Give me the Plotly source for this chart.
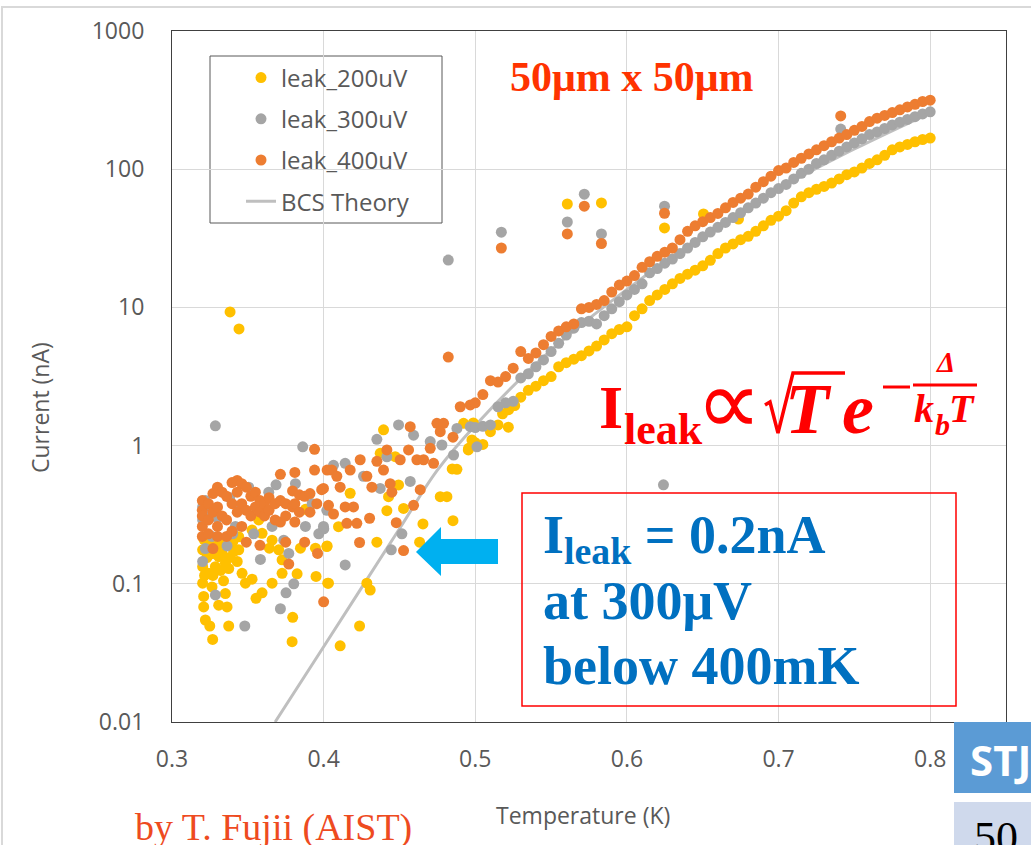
import plotly.graph_objects as go

# ---------------- data ----------------
# leak_200uV (yellow)
t200_low = [0.3202, 0.3202, 0.3202, 0.3209, 0.3209, 0.322, 0.3249, 0.3268, 0.3242, 0.3264,
            0.3286, 0.3308, 0.333, 0.3352, 0.3374, 0.3352, 0.3363, 0.3308, 0.3374, 0.3407,
            0.344, 0.3462, 0.3528, 0.3484, 0.3594, 0.3554, 0.366, 0.3726, 0.3825, 0.3796,
            0.3792, 0.395, 0.4027, 0.3642, 0.3726, 0.3847, 0.3946, 0.4023, 0.3594, 0.366,
            0.3528, 0.344, 0.3572, 0.388, 0.3704, 0.321, 0.325, 0.330, 0.335, 0.340,
            0.323, 0.327, 0.332, 0.338, 0.343, 0.3215, 0.326, 0.334]
i200_low = [0.176, 0.133, 0.101, 0.081, 0.068, 0.0547, 0.0495, 0.0396, 0.119, 0.095,
            0.133, 0.157, 0.166, 0.141, 0.129, 0.085, 0.068, 0.070, 0.0495, 0.171,
            0.176, 0.119, 0.108, 0.101, 0.086, 0.0785, 0.101, 0.119, 0.118, 0.0572,
            0.0381, 0.113, 0.101, 0.181, 0.149, 0.181, 0.181, 0.188, 0.232, 0.207,
            0.245, 0.219, 0.29, 0.346, 0.176, 0.21, 0.20, 0.19, 0.21, 0.20,
            0.155, 0.115, 0.125, 0.155, 0.145, 0.115, 0.165, 0.105]
t200_mid = [0.4395, 0.4923, 0.4978, 0.4956, 0.4879, 0.4769, 0.4813, 0.4853, 0.4655, 0.4633,
            0.4351, 0.4417, 0.4527, 0.4494, 0.4428, 0.4175, 0.4098, 0.4021, 0.4032, 0.4285,
            0.4307, 0.4237, 0.4109, 0.4472, 0.4373, 0.4848, 0.4954, 0.4987]
i200_mid = [1.30, 1.45, 1.10, 0.955, 0.673, 0.427, 0.427, 0.286, 0.271, 0.20,
            0.20, 0.338, 0.351, 0.519, 0.427, 0.452, 0.259, 0.186, 0.101, 0.101,
            0.0902, 0.0495, 0.0356, 0.832, 0.879, 0.678, 0.93, 1.46]
t200_hi = [0.500, 0.505, 0.510, 0.515, 0.518, 0.522, 0.526,
           0.530, 0.535, 0.540, 0.545, 0.550,
           0.555, 0.560, 0.565, 0.570, 0.575, 0.580, 0.585, 0.590, 0.595, 0.600,
           0.605, 0.610, 0.615, 0.620, 0.625, 0.630, 0.635, 0.640, 0.645, 0.650,
           0.655, 0.660, 0.665, 0.670, 0.675, 0.680, 0.685, 0.690, 0.695, 0.700,
           0.705, 0.710, 0.715, 0.720, 0.725, 0.730, 0.735, 0.740, 0.745, 0.750,
           0.755, 0.760, 0.765, 0.770, 0.775, 0.780, 0.785, 0.790, 0.795, 0.800]
i200_hi = [1.05, 1.02, 1.26, 1.41, 1.70, 1.82, 1.95,
           2.24, 2.51, 2.69, 2.95, 3.16,
           3.72, 3.98, 4.22, 4.47, 4.84, 5.25, 5.82, 6.46, 6.92, 7.24,
           8.71, 9.77, 11.2, 12.3, 13.5, 14.8, 16.2, 17.4, 18.6, 20.0,
           21.9, 24.5, 26.9, 28.8, 30.9, 32.7, 35.5, 38.9, 42.7, 45.7,
           50.1, 56.9, 63.1, 67.6, 71.6, 75.0, 79.4, 85.1, 91.2, 95.5,
           102, 110, 117, 126, 138, 145, 151, 158, 164, 168]
t200_out = [0.3383, 0.3442, 0.5607, 0.5832, 0.6248, 0.6505, 0.6736, 0.5218]
i200_out = [9.27, 6.98, 56, 57, 37.6, 47.4, 43.6, 1.36]

# leak_300uV (grey)
t300_low = [0.3286, 0.3862, 0.3686, 0.3814, 0.3638, 0.3506, 0.3202, 0.3202, 0.3202, 0.322,
            0.3363, 0.3286, 0.3583, 0.3752, 0.3715, 0.348, 0.3803, 0.377, 0.3737, 0.3968,
            0.4001, 0.3924, 0.3539, 0.3418, 0.366, 0.3264, 0.388, 0.322, 0.325, 0.330,
            0.338, 0.345, 0.340]
i300_low = [1.39, 0.98, 0.52, 0.53, 0.46, 0.50, 0.36, 0.29, 0.145, 0.18,
            0.188, 0.083, 0.15, 0.086, 0.066, 0.0495, 0.10, 0.166, 0.207, 0.23,
            0.25, 0.38, 0.23, 0.26, 0.26, 0.22, 0.26, 0.40, 0.33, 0.30,
            0.42, 0.35, 0.23]
t300_mid = [0.4494, 0.4593, 0.4351, 0.4703, 0.478, 0.4879, 0.4967, 0.4857, 0.4571, 0.4373,
            0.4142, 0.4065, 0.4263, 0.4021, 0.3999, 0.4516, 0.4446, 0.4142, 0.4417, 0.5011]
i300_mid = [1.41, 1.19, 1.11, 1.07, 1.01, 1.33, 1.37, 0.855, 0.55, 0.49,
            0.745, 0.72, 0.60, 0.34, 0.26, 0.23, 0.176, 0.137, 0.83, 0.98]
t300_hi = [0.500, 0.505, 0.510, 0.515, 0.520, 0.525, 0.530, 0.535, 0.540, 0.545, 0.550,
           0.555, 0.560, 0.565, 0.570, 0.575, 0.580, 0.585, 0.590, 0.595, 0.600,
           0.605, 0.610, 0.615, 0.620, 0.625, 0.630, 0.635, 0.640, 0.645, 0.650,
           0.655, 0.660, 0.665, 0.670, 0.675, 0.680, 0.685, 0.690, 0.695, 0.700,
           0.705, 0.710, 0.715, 0.720, 0.725, 0.730, 0.735, 0.740, 0.745, 0.750,
           0.755, 0.760, 0.765, 0.770, 0.775, 0.780, 0.785, 0.790, 0.795, 0.800]
i300_hi = [1.35, 1.38, 1.41, 1.91, 2.04, 2.09, 3.09, 3.31, 3.72, 4.17, 4.79,
           5.50, 6.31, 7.08, 7.76, 7.94, 7.59, 8.71, 9.77, 11.0, 12.3,
           13.5, 14.8, 17.8, 19.1, 20.9, 22.4, 24.5, 26.9, 29.5, 32.4,
           35.1, 38.0, 41.2, 44.7, 48.4, 52.5, 56.9, 61.7, 67.6, 72.4,
           77.6, 85.1, 93.3, 100, 110, 117, 126, 135, 145, 155,
           166, 178, 186, 197, 209, 219, 229, 240, 251, 260]
t300_out = [0.4822, 0.5172, 0.5607, 0.5719, 0.5832, 0.6248, 0.741, 0.6241]
i300_out = [22, 35, 41.5, 66, 34, 54, 195, 0.52]

# leak_400uV (orange)
t400_low = [0.320, 0.320, 0.320, 0.320, 0.320, 0.324, 0.324, 0.324, 0.327, 0.327, 0.327,
            0.330, 0.330, 0.330, 0.330, 0.333, 0.333, 0.336, 0.336, 0.336,
            0.3396, 0.3396, 0.3396, 0.343, 0.343, 0.343, 0.346, 0.346, 0.346,
            0.349, 0.349, 0.349, 0.352, 0.352, 0.355, 0.355, 0.358, 0.358, 0.358,
            0.361, 0.361, 0.364, 0.364, 0.368, 0.368, 0.3715, 0.3715, 0.3715,
            0.375, 0.375, 0.375, 0.3795, 0.3795, 0.381, 0.381, 0.381, 0.384, 0.384,
            0.3875, 0.3875, 0.391, 0.391, 0.394, 0.394, 0.396, 0.3955, 0.400, 0.3987,
            0.4023, 0.377]
i400_low = [0.40, 0.34, 0.31, 0.26, 0.22, 0.38, 0.29, 0.23, 0.45, 0.33, 0.18,
            0.50, 0.36, 0.26, 0.22, 0.46, 0.31, 0.43, 0.29, 0.22,
            0.54, 0.38, 0.24, 0.56, 0.46, 0.33, 0.53, 0.38, 0.26,
            0.50, 0.34, 0.20, 0.43, 0.31, 0.46, 0.36, 0.40, 0.33, 0.19,
            0.38, 0.31, 0.42, 0.34, 0.38, 0.29, 0.62, 0.40, 0.28,
            0.38, 0.31, 0.20, 0.47, 0.36, 0.64, 0.38, 0.28, 0.33, 0.44,
            0.43, 0.20, 0.45, 0.33, 0.94, 0.665, 0.166, 0.38, 0.074, 0.48,
            0.665, 0.139]
t400_mid = [0.3999, 0.4054, 0.4087, 0.4109, 0.4175, 0.4241, 0.4285, 0.4351, 0.4395, 0.4417,
            0.4505, 0.456, 0.4571, 0.4615, 0.4659, 0.4703, 0.4725, 0.4747, 0.4791, 0.4769,
            0.4853, 0.4901, 0.4967, 0.4318, 0.4439, 0.445, 0.4637, 0.4593, 0.4479, 0.4527,
            0.4237, 0.4303, 0.4142, 0.4197, 0.4032, 0.4065, 0.4153, 0.4219]
i400_mid = [0.49, 0.665, 0.60, 0.50, 0.665, 0.79, 0.60, 0.77, 0.665, 0.93,
            0.79, 0.93, 1.37, 0.79, 0.79, 0.955, 0.745, 1.45, 1.45, 1.26,
            1.15, 1.91, 1.97, 0.50, 0.53, 0.46, 0.48, 0.37, 0.277, 0.174,
            0.199, 0.298, 0.36, 0.36, 0.37, 0.32, 0.274, 0.274]
t400_hi = [0.500, 0.505, 0.510, 0.515, 0.520, 0.525, 0.530, 0.535, 0.540, 0.545, 0.550,
           0.555, 0.560, 0.565, 0.570, 0.575, 0.580, 0.585, 0.590, 0.595, 0.600,
           0.605, 0.610, 0.615, 0.620, 0.625, 0.630, 0.635, 0.640, 0.645, 0.650,
           0.655, 0.660, 0.665, 0.670, 0.675, 0.680, 0.685, 0.690, 0.695, 0.700,
           0.705, 0.710, 0.715, 0.720, 0.725, 0.730, 0.735, 0.740, 0.745, 0.750,
           0.755, 0.760, 0.765, 0.770, 0.775, 0.780, 0.785, 0.790, 0.795, 0.800]
i400_hi = [2.04, 2.34, 2.95, 2.88, 3.16, 3.63, 4.79, 4.27, 4.68, 5.37, 6.17,
           6.76, 7.24, 7.59, 9.77, 10.0, 10.5, 11.2, 12.9, 14.5, 15.5,
           17.0, 19.5, 21.4, 23.4, 25.1, 26.9, 30.9, 35.5, 38.9, 41.7,
           44.7, 47.9, 52.5, 57.5, 61.7, 66.1, 74.1, 81.3, 89.1, 97.7,
           102, 112, 120, 129, 138, 148, 158, 168, 178, 191,
           204, 221, 234, 245, 257, 269, 282, 295, 309, 316]
t400_out = [0.4822, 0.5172, 0.5607, 0.5719, 0.5832, 0.6248, 0.741]
i400_out = [4.37, 26.9, 34, 54, 29, 48, 243]

# BCS theory curve
bcs_t = [0.368, 0.40, 0.45, 0.475, 0.50, 0.55, 0.60, 0.65, 0.70, 0.75, 0.80]
bcs_i = [0.01, 0.035, 0.25, 0.665, 1.4, 4.9, 13.5, 33, 72, 140, 255]

x_ticks = [0.3, 0.4, 0.5, 0.6, 0.7, 0.8]
x_labels = ["0.3", "0.4", "0.5", "0.6", "0.7", "0.8"]
y_ticks = [0.01, 0.1, 1, 10, 100, 1000]
y_labels = ["0.01", "0.1", "1", "10", "100", "1000"]

# ---------------- layout helpers ----------------
W, H = 1031, 845
ML, MR, MT, MB = 172, 25, 31, 123
PW, PH = W - ML - MR, H - MT - MB


def fx(px):
    return (px - ML) / PW


def fy(py):
    return (H - MB - py) / PH


GREY_TXT = "#595959"
SERIF = "Liberation Serif, Times New Roman, serif"
SANS = "Open Sans, Segoe UI, sans-serif"

fig = go.Figure()
fig.add_trace(go.Scatter(x=bcs_t, y=bcs_i, mode="lines", name="BCS Theory",
                         line=dict(color="#BFBFBF", width=3, shape="spline"),
                         legendrank=4, legendgroup="bcs"))
series = [
    ("leak_200uV", "#FFC000", t200_low + t200_mid + t200_hi + t200_out,
     i200_low + i200_mid + i200_hi + i200_out, 1),
    ("leak_300uV", "#A5A5A5", t300_low + t300_mid + t300_hi + t300_out,
     i300_low + i300_mid + i300_hi + i300_out, 2),
    ("leak_400uV", "#ED7D31", t400_low + t400_mid + t400_hi + t400_out,
     i400_low + i400_mid + i400_hi + i400_out, 3),
]
for name, col, t, i, rk in series:
    fig.add_trace(go.Scatter(x=t, y=i, mode="markers", name=name,
                             marker=dict(color=col, size=11, line=dict(width=0)),
                             legendrank=rk, legendgroup=name))

fig.update_layout(
    width=W, height=H,
    margin=dict(l=ML, r=MR, t=MT, b=MB),
    paper_bgcolor="white", plot_bgcolor="white",
    showlegend=True,
    legend=dict(x=fx(241), y=fy(55.5), xanchor="left", yanchor="top",
                bgcolor="rgba(0,0,0,0)", borderwidth=0,
                font=dict(family=SANS, size=24, color=GREY_TXT),
                traceorder="grouped", tracegroupgap=7, itemwidth=30),
    xaxis=dict(range=[0.3, 0.85], tickvals=x_ticks, ticktext=x_labels,
               showgrid=True, gridcolor="#D9D9D9", gridwidth=1, zeroline=False,
               showline=True, linecolor="#404040", linewidth=1.2, mirror=True,
               ticks="", ticklabelstandoff=16,
               tickfont=dict(family=SANS, size=23, color=GREY_TXT)),
    yaxis=dict(type="log", range=[-2, 3], tickvals=y_ticks, ticktext=y_labels,
               showgrid=True, gridcolor="#D9D9D9", gridwidth=1, zeroline=False,
               showline=True, linecolor="#404040", linewidth=1.2, mirror=True,
               ticks="", ticklabelstandoff=22,
               tickfont=dict(family=SANS, size=23, color=GREY_TXT)),
)

shapes = []
# outer chart border
shapes.append(dict(type="rect", xref="paper", yref="paper", x0=fx(2), x1=fx(1040),
                   y0=fy(850), y1=fy(7), line=dict(color="#D9D9D9", width=2), layer="below"))
# legend box
shapes.append(dict(type="rect", xref="paper", yref="paper", x0=fx(210), x1=fx(442),
                   y0=fy(223), y1=fy(56), fillcolor="white",
                   line=dict(color=GREY_TXT, width=1), layer="between"))
# red box
shapes.append(dict(type="rect", xref="paper", yref="paper", x0=fx(522), x1=fx(956),
                   y0=fy(706), y1=fy(493), line=dict(color="#FF0000", width=1.5)))
# blue arrow
arrow_px = [(416, 552), (441, 527), (441, 539), (498, 539), (498, 564), (441, 564), (441, 576)]
path = "M " + " L ".join(f"{fx(a):.5f},{fy(b):.5f}" for a, b in arrow_px) + " Z"
shapes.append(dict(type="path", xref="paper", yref="paper", path=path,
                   fillcolor="#00B0F0", line=dict(width=0)))
# radical sign of formula
rad_px = [(765, 405), (770, 402), (778, 433), (793, 373), (845, 373)]
rpath = "M " + " L ".join(f"{fx(a):.5f},{fy(b):.5f}" for a, b in rad_px)
shapes.append(dict(type="path", xref="paper", yref="paper", path=rpath,
                   line=dict(color="#FF0000", width=3.5)))
# minus sign and fraction bar in exponent
shapes.append(dict(type="line", xref="paper", yref="paper", x0=fx(883), x1=fx(910),
                   y0=fy(387), y1=fy(387), line=dict(color="#FF0000", width=3)))
shapes.append(dict(type="line", xref="paper", yref="paper", x0=fx(913), x1=fx(977),
                   y0=fy(385), y1=fy(385), line=dict(color="#FF0000", width=3)))
# STJ tab boxes
shapes.append(dict(type="rect", xref="paper", yref="paper", x0=fx(954), x1=fx(1040),
                   y0=fy(793), y1=fy(722), fillcolor="#5B9BD5", line=dict(width=0)))
shapes.append(dict(type="rect", xref="paper", yref="paper", x0=fx(954), x1=fx(1040),
                   y0=fy(860), y1=fy(802), fillcolor="#CFD9EC", line=dict(width=0)))
fig.update_layout(shapes=shapes)


def ann(text, px, py, size, color, family=SERIF, xanchor="left", yanchor="middle", angle=0):
    fig.add_annotation(text=text, x=fx(px), y=fy(py), xref="paper", yref="paper",
                       xanchor=xanchor, yanchor=yanchor, showarrow=False, textangle=angle,
                       font=dict(family=family, size=size, color=color))


ann("Current (nA)", 40, 408, 23, GREY_TXT, family=SANS, xanchor="center", angle=-90)
ann("Temperature (K)", 583, 815, 23, GREY_TXT, family=SANS, xanchor="center")
ann("<b>50μm x 50μm</b>", 632, 77, 42, "#FF3300", xanchor="center")
# formula
ann("<b>I</b>", 597, 407, 62, "#FF0000")
ann("<b>leak</b>", 622, 430, 44, "#FF0000")
ann("∝", 729, 402, 92, "#FF0000", family="DejaVu Sans", xanchor="center")
ann("<b><i>T</i></b>", 808, 409, 72, "#FF0000", xanchor="center")
ann("<b><i>e</i></b>", 858, 409, 72, "#FF0000", xanchor="center")
ann("<b><i>Δ</i></b>", 945, 362, 29, "#FF0000", xanchor="center")
ann("<b><i>k</i></b>", 912, 408, 40, "#FF0000")
ann("<b><i>b</i></b>", 933, 425, 30, "#FF0000")
ann("<b><i>T</i></b>", 947, 408, 40, "#FF0000")
# blue statement
BLUE = "#0070C0"
ann("<b>I<sub>leak</sub> = 0.2nA</b>", 541, 538, 54, BLUE)
ann("<b>at 300μV</b>", 541, 601, 54, BLUE)
ann("<b>below 400mK</b>", 541, 666, 54, BLUE)
# side tab and credit
ann("<b>STJ</b>", 968, 760, 42, "white", family=SANS)
ann("50", 972, 811, 44, "black", yanchor="top")
ann("by T. Fujii (AIST)", 133, 827, 38, "#EE4B1F")

fig.write_html("out.html", config={"displayModeBar": False},
               post_script="document.body.style.margin='0px';")
